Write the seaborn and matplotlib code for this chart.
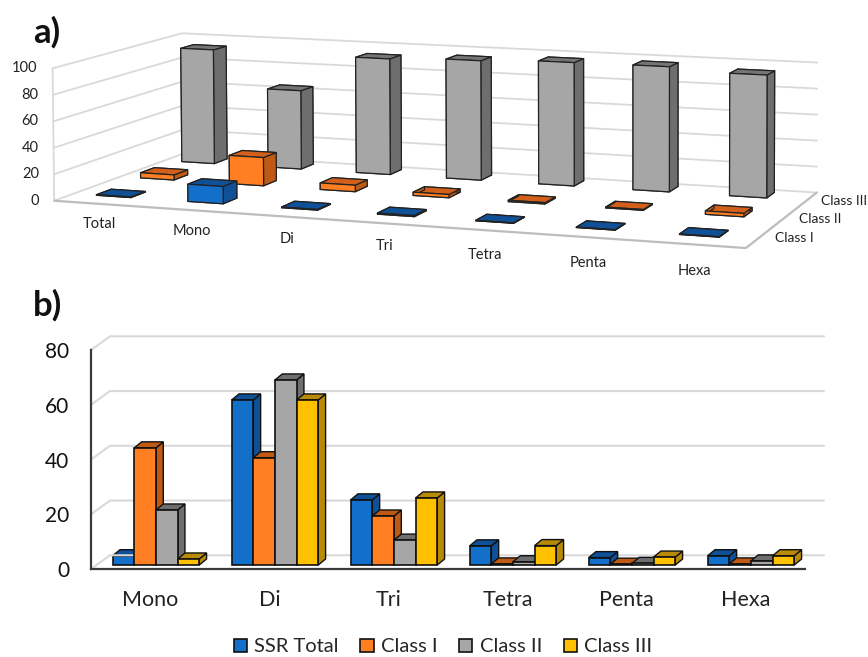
import numpy as np
import pandas as pd
import matplotlib
matplotlib.use("Agg")
import matplotlib.pyplot as plt
from matplotlib.patches import Polygon
from mpl_toolkits.mplot3d import proj3d
import seaborn as sns

# ---------- data ----------
groups_3d = ["Total", "Mono", "Di", "Tri", "Tetra", "Penta", "Hexa"]
rows_3d = ["Class I", "Class II", "Class III"]
class1_pct = [0.4, 13.0, 0.5, 0.8, 0.3, 0.3, 0.3]
class2_pct = [4.0, 22.0, 5.0, 2.5, 1.0, 0.6, 2.5]
class3_pct = [92.5, 63.0, 92.0, 94.0, 96.0, 96.3, 93.5]
ticks_3d = [0, 20, 40, 60, 80, 100]

motifs = ["Mono", "Di", "Tri", "Tetra", "Penta", "Hexa"]
ssr_total = [3.4, 60.3, 23.8, 7.0, 2.7, 3.4]
class_1 = [42.8, 39.2, 17.9, 0.4, 0.3, 0.4]
class_2 = [20.1, 67.6, 9.1, 1.2, 0.6, 1.5]
class_3 = [2.2, 60.3, 24.5, 7.1, 2.9, 3.4]
series_names = ["SSR Total", "Class I", "Class II", "Class III"]

FRONT = {"blue": "#1270CB", "orange": "#FF7F22", "gray": "#A6A6A6", "yellow": "#FFC000"}
DARK = {"blue": "#0F5096", "orange": "#BF5A14", "gray": "#6E6E6E", "yellow": "#B88A06"}
TOP3D = {"blue": "#0F5096", "orange": "#D2601A", "gray": "#757575"}
GRID = "#D9D9D9"
FONT = "Lato"

sns.set_theme(style="white")
plt.rcParams["font.family"] = [FONT, "DejaVu Sans"]
W, H = 868, 657
fig = plt.figure(figsize=(W / 100, H / 100), dpi=100, facecolor="white")

# ---------- panel a: 3D bars on a fitted perspective view ----------
ax3 = fig.add_axes([0, 0, 1, W / H], projection="3d", proj_type="ortho", computed_zorder=False)
ax3.set_xticks([])
ax3.set_yticks([])
ax3.set_zticks([])
ax3.set_axis_off()
ax3.patch.set_alpha(0)
ax3.apply_aspect()

# Where box corners (group, class, percent) fall on the canvas, in pixels from the top left
corner_box = np.array([[0, 0, 0], [7, 0, 0], [7, 3, 0], [0, 3, 0],
                       [0, 0, 100], [0, 3, 100], [7, 3, 100]], float)
corner_px = np.array([[55, 198], [746, 250], [817, 190], [182, 157],
                      [51.7, 69.3], [183, 31.7], [817, 63.3]], float)
disp = np.column_stack([corner_px[:, 0], H - corner_px[:, 1]])
view = ax3.transData.inverted().transform(disp)

rows_a, rhs = [], []
for (x, y, z), (u, v) in zip(corner_box, view):
    rows_a.append([x, y, z, 1, 0, 0, 0, 0, -u * x, -u * y, -u * z])
    rows_a.append([0, 0, 0, 0, x, y, z, 1, -v * x, -v * y, -v * z])
    rhs += [u, v]
h = np.linalg.lstsq(np.array(rows_a), np.array(rhs), rcond=None)[0]
view_matrix = np.array([[h[0], h[1], h[2], h[3]],
                        [h[4], h[5], h[6], h[7]],
                        [-0.01, 1.0, -0.001, 0.0],
                        [h[8], h[9], h[10], 1.0]])
ax3.get_proj = lambda: view_matrix


def label_at(x, y, z, text, dx=0, **kw):
    """Write flat text where a box position lands, nudged sideways by dx pixels."""
    u, v, _ = proj3d.proj_transform(x, y, z, view_matrix)
    px, py = ax3.transData.transform((float(u), float(v)))
    fig.text((px + dx) / W, py / H, text, va="center", color="#222222", **kw)


for t in ticks_3d:
    ax3.plot([0, 0, 7], [0, 3, 3], [t, t, t], color=GRID, lw=1.3, zorder=1)
ax3.plot([0, 0], [0, 0], [0, 100], color=GRID, lw=1.3, zorder=1)
ax3.plot([0, 7, 7], [0, 0, 3], [0, 0, 0], color="#BDBDBD", lw=1.6, zorder=1)

bar_w, bar_d = 0.38, 0.33
row_shift = [0.08, 0.14, 0.20]
table3 = [(2, class3_pct, "gray"), (1, class2_pct, "orange"), (0, class1_pct, "blue")]
z_base = 2
for row, vals, key in table3:
    off = row_shift[row]
    for i, val in enumerate(vals):
        xc = i * 1.002 + 0.48 - 0.436 * off
        yc = row + 0.5 + off
        faces = [DARK[key], TOP3D[key], FRONT[key], DARK[key], DARK[key], DARK[key]]
        ax3.bar3d(xc - bar_w / 2, yc - bar_d / 2, 0, bar_w, bar_d, val,
                  color=faces, edgecolor="#222222", linewidth=0.9, shade=False, zorder=z_base)
        z_base += 1

for t in ticks_3d:
    label_at(0, 0, t, str(t), dx=-15, ha="right", fontsize=10.5)
for i, g in enumerate(groups_3d):
    label_at(0.955 + 0.978 * i, -0.92 - 0.04 * i, 0, g, ha="center", fontsize=10.5)
for j, r in enumerate(rows_3d):
    label_at(7.14, j + 0.55, 0, r, ha="left", fontsize=10)

# ---------- panel b: grouped bars with an extruded look ----------
ax = fig.add_axes([91 / W, (H - 569) / H, 714 / W, 219 / H])
long = pd.DataFrame({"motif": motifs * 4,
                     "series": np.repeat(series_names, len(motifs)),
                     "value": ssr_total + class_1 + class_2 + class_3})
sns.barplot(data=long, x="motif", y="value", hue="series", order=motifs, hue_order=series_names,
            palette=list(FRONT.values()), width=0.7275, saturation=1, edgecolor="#111111",
            linewidth=1.2, errorbar=None, ax=ax)
ax.set_xlim(-0.5, 5.5)
ax.set_ylim(0, 80)
ax.patch.set_alpha(0)

unit_x = 6 / 714
unit_y = 80 / 219
wall_dx, wall_dy = 19 * unit_x, 13.7 * unit_y
floor_dx, floor_dy = 5.5 * unit_x, 4 * unit_y
depth_dx, depth_dy = 7.3 * unit_x, 6 * unit_y

for v in [0, 20, 40, 60, 80]:
    ax.plot([-0.5, -0.5 + wall_dx, 5.5 + wall_dx], [v, v + wall_dy, v + wall_dy],
            color=GRID, lw=1.5, clip_on=False, zorder=1)

for key, cont in zip(FRONT, ax.containers):
    for bar in cont:
        bar.set_x(bar.get_x() + floor_dx)
        bar.set_y(floor_dy)
        bar.set_clip_on(False)
        x0 = bar.get_x()
        x1 = x0 + bar.get_width()
        y0 = floor_dy
        y1 = y0 + bar.get_height()
        order = 3 + x0 * 10
        bar.set_zorder(order + 0.2)
        side = [(x1, y0), (x1 + depth_dx, y0 + depth_dy), (x1 + depth_dx, y1 + depth_dy), (x1, y1)]
        top = [(x0, y1), (x0 + depth_dx, y1 + depth_dy), (x1 + depth_dx, y1 + depth_dy), (x1, y1)]
        for pts in (side, top):
            ax.add_patch(Polygon(pts, closed=True, facecolor=DARK[key], edgecolor="#111111",
                                 linewidth=1.0, clip_on=False, zorder=order))

sns.despine(ax=ax)
ax.spines[["left", "bottom"]].set_color("#3A3A3A")
ax.spines[["left", "bottom"]].set_linewidth(1.6)
ax.set_xlabel("")
ax.set_ylabel("")
ax.set_yticks([0, 20, 40, 60, 80])
ax.tick_params(axis="y", length=0, pad=15.5, labelsize=15, labelcolor="#111111")
ax.tick_params(axis="x", length=0, pad=15, labelsize=15.5, labelcolor="#222222")

sns.move_legend(ax, "center", bbox_to_anchor=(443 / W, (H - 647) / H),
                bbox_transform=fig.transFigure, ncol=4, frameon=False, title=None,
                fontsize=14.5, handlelength=0.65, handleheight=0.65, handletextpad=0.35,
                columnspacing=1.1)

fig.text(33 / W, 1 - 43 / H, "a)", fontsize=25, fontweight="bold", color="#111111")
fig.text(33 / W, 1 - 316 / H, "b)", fontsize=25, fontweight="bold", color="#111111")

fig.savefig("out.png", dpi=100, facecolor="white")
